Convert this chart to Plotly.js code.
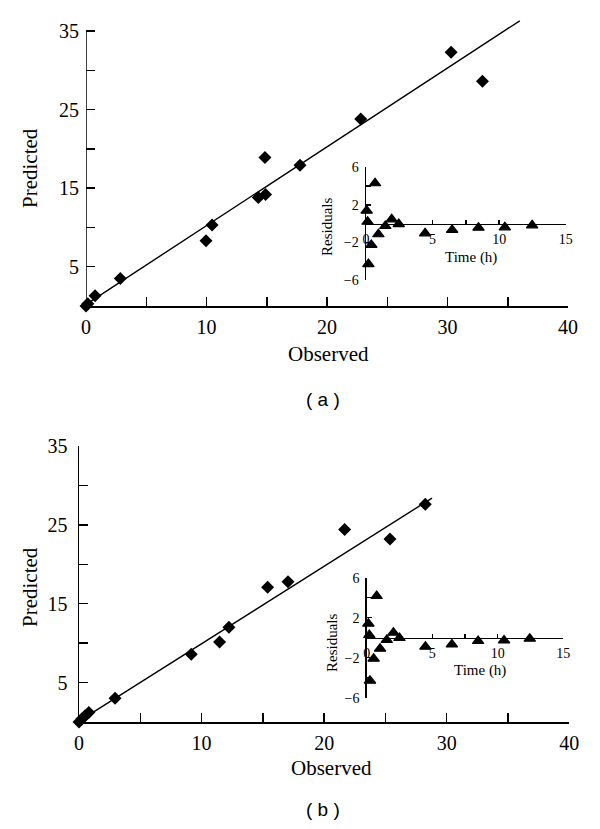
<!DOCTYPE html>
<html>
<head>
<meta charset="utf-8">
<script src="https://cdn.plot.ly/plotly-3.0.1.min.js"></script>
<style>html,body{margin:0;padding:0;background:#fff;}</style>
</head>
<body>
<div id="chart" style="width:600px;height:829px;"></div>
<script>
// ---------- Data ----------
// Panel (a): observed vs predicted
var obsA  = [0, 0.15, 0.75, 2.85, 9.96, 10.46, 14.3, 14.9, 14.85, 17.76, 22.8, 30.3, 32.9];
var predA = [0, 0.3, 1.3, 3.5, 8.3, 10.3, 13.8, 14.2, 18.9, 17.9, 23.8, 32.3, 28.6];
var fitAx = [0.3, 36];
var fitAy = [0.5, 36.3];
// Panel (a) inset: residuals vs time
var timeA = [0.05, 0.12, 0.68, 0.4, 0.18, 0.93, 1.45, 1.93, 2.46, 4.44, 6.47, 8.45, 10.43, 12.48];
var resA  = [1.38, 0.2, 4.3, -2.27, -4.3, -1.13, -0.25, 0.46, -0.04, -1.03, -0.67, -0.43, -0.39, -0.18];

// Panel (b): observed vs predicted
var obsB  = [0, 0.25, 0.5, 0.8, 2.94, 9.16, 11.47, 12.23, 15.39, 17.05, 21.67, 25.37, 28.25];
var predB = [0, 0.4, 0.8, 1.2, 3.0, 8.58, 10.14, 12.0, 17.1, 17.8, 24.4, 23.2, 27.6];
var fitBx = [0.2, 28.8];
var fitBy = [0.3, 28.4];
// Panel (b) inset: residuals vs time
var timeB = [0.13, 0.2, 0.76, 0.53, 0.25, 1.02, 1.53, 2.04, 2.5, 4.48, 6.5, 8.5, 10.48, 12.44];
var resB  = [1.4, 0.27, 4.17, -2.1, -4.3, -1.1, -0.23, 0.5, -0.03, -0.9, -0.67, -0.33, -0.27, -0.1];

// Tick labels
var mainXTickVals = [0, 5, 10, 15, 20, 25, 30, 35, 40];
var mainXTickText = ['0', '', '10', '', '20', '', '30', '', '40'];
var mainYTickVals = [5, 10, 15, 20, 25, 30, 35];
var mainYTickText = ['5', '', '15', '', '25', '', '35'];
var inXTickVals = [0, 2.5, 5, 7.5, 10, 12.5, 15];
var inXTickText = ['0', '', '5', '', '10', '', '15'];
var inYTickVals = [-6, -4, -2, 0, 2, 4, 6];
var inYTickText = ['\u22126', '', '\u22122', '', '2', '', '6'];

// ---------- Layout helpers ----------
var W = 600, H = 829;
function px(x) { return x / W; }
function py(y) { return 1 - y / H; }

var serif = 'Liberation Serif, Times New Roman, serif';

function mainX(dom, anchor) {
  return {
    domain: dom, anchor: anchor, range: [0, 40], showgrid: false, zeroline: false,
    showline: true, linecolor: 'black', linewidth: 1.5,
    ticks: 'inside', ticklen: 9, tickwidth: 1.5, tickcolor: 'black',
    tickmode: 'array', tickvals: mainXTickVals, ticktext: mainXTickText,
    tickfont: {family: serif, size: 20, color: 'black'}, ticklabelstandoff: 2
  };
}
function mainY(dom, anchor, range, showline) {
  return {
    domain: dom, anchor: anchor, range: range, showgrid: false, zeroline: false,
    showline: showline, linecolor: 'black', linewidth: 1.5,
    ticks: 'inside', ticklen: 9, tickwidth: 1.5, tickcolor: 'black',
    tickmode: 'array', tickvals: mainYTickVals, ticktext: mainYTickText,
    tickfont: {family: serif, size: 20, color: 'black'}, ticklabelstandoff: 6
  };
}
function inX(dom, pos) {
  return {
    domain: dom, anchor: 'free', position: pos, range: [0, 15], showgrid: false, zeroline: false,
    showline: true, linecolor: 'black', linewidth: 1.5,
    ticks: 'inside', ticklen: 4, tickwidth: 1.3, tickcolor: 'black',
    tickmode: 'array', tickvals: inXTickVals, ticktext: inXTickText,
    tickfont: {family: serif, size: 14, color: 'black'}, ticklabelstandoff: 2
  };
}
function inY(dom, anchor) {
  return {
    domain: dom, anchor: anchor, range: [-6, 6], showgrid: false, zeroline: false,
    showline: true, linecolor: 'black', linewidth: 1.5,
    ticks: 'inside', ticklen: 5, tickwidth: 1.3, tickcolor: 'black',
    tickmode: 'array', tickvals: inYTickVals, ticktext: inYTickText,
    tickfont: {family: serif, size: 14, color: 'black'}, ticklabelstandoff: 3
  };
}

var diamond = {symbol: 'diamond', size: 10, color: 'black'};
var tri = {symbol: 'triangle-up', size: 10, color: 'black', line: {color: 'black', width: 1.2}};

var traces = [
  {x: fitAx, y: fitAy, xaxis: 'x', yaxis: 'y', mode: 'lines', line: {color: 'black', width: 1.4}},
  {x: obsA, y: predA, xaxis: 'x', yaxis: 'y', mode: 'markers', marker: diamond, cliponaxis: false},
  {x: timeA, y: resA, xaxis: 'x2', yaxis: 'y2', mode: 'markers', marker: tri, cliponaxis: false},
  {x: fitBx, y: fitBy, xaxis: 'x3', yaxis: 'y3', mode: 'lines', line: {color: 'black', width: 1.4}},
  {x: obsB, y: predB, xaxis: 'x3', yaxis: 'y3', mode: 'markers', marker: diamond, cliponaxis: false},
  {x: timeB, y: resB, xaxis: 'x4', yaxis: 'y4', mode: 'markers', marker: tri, cliponaxis: false}
];

// Panel a main: y=0 at 306px, 7.857 px/unit, extended to 37.5 so the fit line is not clipped
var aTop = 306 - 37.5 * 7.857;

function ann(text, x, y, size, angle, family) {
  return {text: text, xref: 'paper', yref: 'paper', x: px(x), y: py(y),
          xanchor: 'center', yanchor: 'middle', showarrow: false, textangle: angle || 0,
          font: {family: family || serif, size: size, color: 'black'}};
}

var layout = {
  width: W, height: H, margin: {l: 0, r: 0, t: 0, b: 0},
  paper_bgcolor: 'white', plot_bgcolor: 'rgba(0,0,0,0)', showlegend: false,
  hovermode: false,
  xaxis: mainX([px(86), px(568)], 'y'),
  yaxis: mainY([py(306), py(aTop)], 'x', [0, 37.5], false),
  xaxis2: inX([px(366), px(565.7)], py(223.7)),
  yaxis2: inY([py(280), py(167.3)], 'x2'),
  xaxis3: mainX([px(79), px(569.3)], 'y3'),
  yaxis3: mainY([py(722), py(446)], 'x3', [0, 35], true),
  xaxis4: inX([px(366.7), px(563.3)], py(637.7)),
  yaxis4: inY([py(697.7), py(577.7)], 'x4'),
  shapes: [
    {type: 'line', xref: 'x', yref: 'y', x0: 0, x1: 0, y0: 0, y1: 35,
     line: {color: 'black', width: 1.5}}
  ],
  annotations: [
    ann('Predicted', 30, 168, 21, -90),
    ann('Observed', 328, 354, 21),
    ann('Residuals', 327, 227, 15, -90),
    ann('Time (h)', 471, 258, 15),
    ann('( a )', 323, 400, 19, 0, 'Liberation Sans, Arial, sans-serif'),
    ann('Predicted', 30, 587, 21, -90),
    ann('Observed', 331, 768, 21),
    ann('Residuals', 332, 643, 15, -90),
    ann('Time (h)', 480, 670, 15),
    ann('( b )', 323, 809, 19, 0, 'Liberation Sans, Arial, sans-serif')
  ]
};

Plotly.newPlot('chart', traces, layout, {staticPlot: true, displayModeBar: false});
</script>
</body>
</html>
